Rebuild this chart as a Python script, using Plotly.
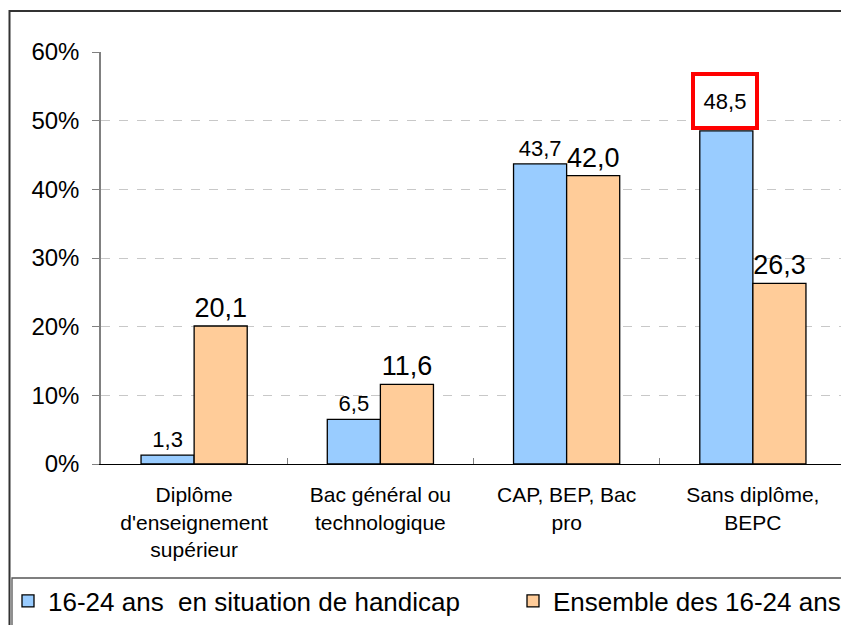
import plotly.graph_objects as go

# ---- data ----
categories = [
    "Diplôme<br>d'enseignement<br>supérieur",
    "Bac général ou<br>technologique",
    "CAP, BEP, Bac<br>pro",
    "Sans diplôme,<br>BEPC",
]
handicap = [1.3, 6.5, 43.7, 48.5]
ensemble = [20.1, 11.6, 42.0, 26.3]
series_names = ["16-24 ans  en situation de handicap", "Ensemble des 16-24 ans"]
y_tick_values = [0, 10, 20, 30, 40, 50, 60]
y_tick_labels = ["0%", "10%", "20%", "30%", "40%", "50%", "60%"]
highlight_index = 3  # value framed in red

# ---- layout geometry (page pixels; the page body adds an 8px offset) ----
W, H = 849, 625
OFF = 8
PLOT_LEFT, PLOT_RIGHT, PLOT_TOP, PLOT_BOTTOM = 101, 846, 52, 464
L = PLOT_LEFT - OFF
R = W - (PLOT_RIGHT - OFF)
T = PLOT_TOP - OFF
B = H - (PLOT_BOTTOM - OFF)
FONT = "Liberation Sans, Arial, sans-serif"


def px_x(px):
    return (px - PLOT_LEFT) / (PLOT_RIGHT - PLOT_LEFT)


def px_y(py):
    return (PLOT_BOTTOM - py) / (PLOT_BOTTOM - PLOT_TOP)


def cx(px):
    return (px - OFF) / W


def cy(py):
    return 1 - (py - OFF) / H


def fmt(v):
    return f"{v:.1f}".replace(".", ",")


blue_text = [fmt(v) if i != highlight_index else "" for i, v in enumerate(handicap)]
orange_text = [fmt(v) for v in ensemble]

fig = go.Figure()
fig.add_trace(go.Bar(
    x=categories, y=handicap, name=series_names[0], legend="legend",
    marker=dict(color="#99CCFF", line=dict(color="#000000", width=1.3)),
    text=blue_text, textposition="outside", constraintext="none",
    textfont=dict(size=22, color="#000000", family=FONT),
    cliponaxis=False,
))
fig.add_trace(go.Bar(
    x=categories, y=ensemble, name=series_names[1], legend="legend2",
    marker=dict(color="#FFCC99", line=dict(color="#000000", width=1.3)),
    text=orange_text, textposition="outside", constraintext="none",
    textfont=dict(size=27, color="#000000", family=FONT),
    cliponaxis=False,
))

fig.add_annotation(
    x=categories[highlight_index], y=handicap[highlight_index],
    xref="x", yref="y", text=fmt(handicap[highlight_index]),
    showarrow=False, xshift=-28, yanchor="bottom", yshift=1,
    font=dict(size=22, color="#000000", family=FONT),
    bordercolor="#FF0000", borderwidth=4, borderpad=2,
    width=56, height=46, bgcolor="#FFFFFF",
)

# outer frame and legend box
fig.add_shape(type="rect", xref="paper", yref="paper",
              x0=px_x(9.5), x1=px_x(W + 30), y0=px_y(H + 30), y1=px_y(11),
              line=dict(color="#333333", width=2), layer="above")
fig.add_shape(type="rect", xref="paper", yref="paper",
              x0=px_x(12), x1=px_x(W + 30), y0=px_y(H + 30), y1=px_y(578),
              line=dict(color="#555555", width=1.3), layer="above")

legend_common = dict(
    orientation="h", xanchor="left", yanchor="middle",
    xref="container", yref="container",
    font=dict(size=26, family=FONT, color="#000000"),
    bgcolor="rgba(0,0,0,0)", borderwidth=0,
)

fig.update_layout(
    width=W, height=H,
    margin=dict(l=L, r=R, t=T, b=B, pad=0, autoexpand=False),
    paper_bgcolor="#FFFFFF", plot_bgcolor="#FFFFFF",
    font=dict(family=FONT, color="#000000"),
    barmode="group", bargap=0.43, bargroupgap=0,
    showlegend=True,
    legend=dict(x=cx(-1), y=cy(601), **legend_common),
    legend2=dict(x=cx(513), y=cy(601), **legend_common),
    xaxis=dict(
        showline=True, linecolor="#000000", linewidth=1.3,
        ticks="inside", tickson="boundaries", ticklen=6, tickcolor="#808080",
        tickfont=dict(size=21, family=FONT, color="#000000"),
        ticklabelstandoff=12, showgrid=False, fixedrange=True, automargin=False,
    ),
    yaxis=dict(
        range=[0, 60], tickmode="array", tickvals=y_tick_values, ticktext=y_tick_labels,
        showgrid=True, gridcolor="#C8C8C8", griddash="dash", gridwidth=1,
        showline=True, linecolor="#808080", linewidth=1.5,
        ticks="outside", ticklen=7, tickcolor="#808080",
        tickfont=dict(size=24, family=FONT, color="#000000"),
        ticklabelstandoff=8, zeroline=False, fixedrange=True, automargin=False,
    ),
)

fig.write_html("out.html")
